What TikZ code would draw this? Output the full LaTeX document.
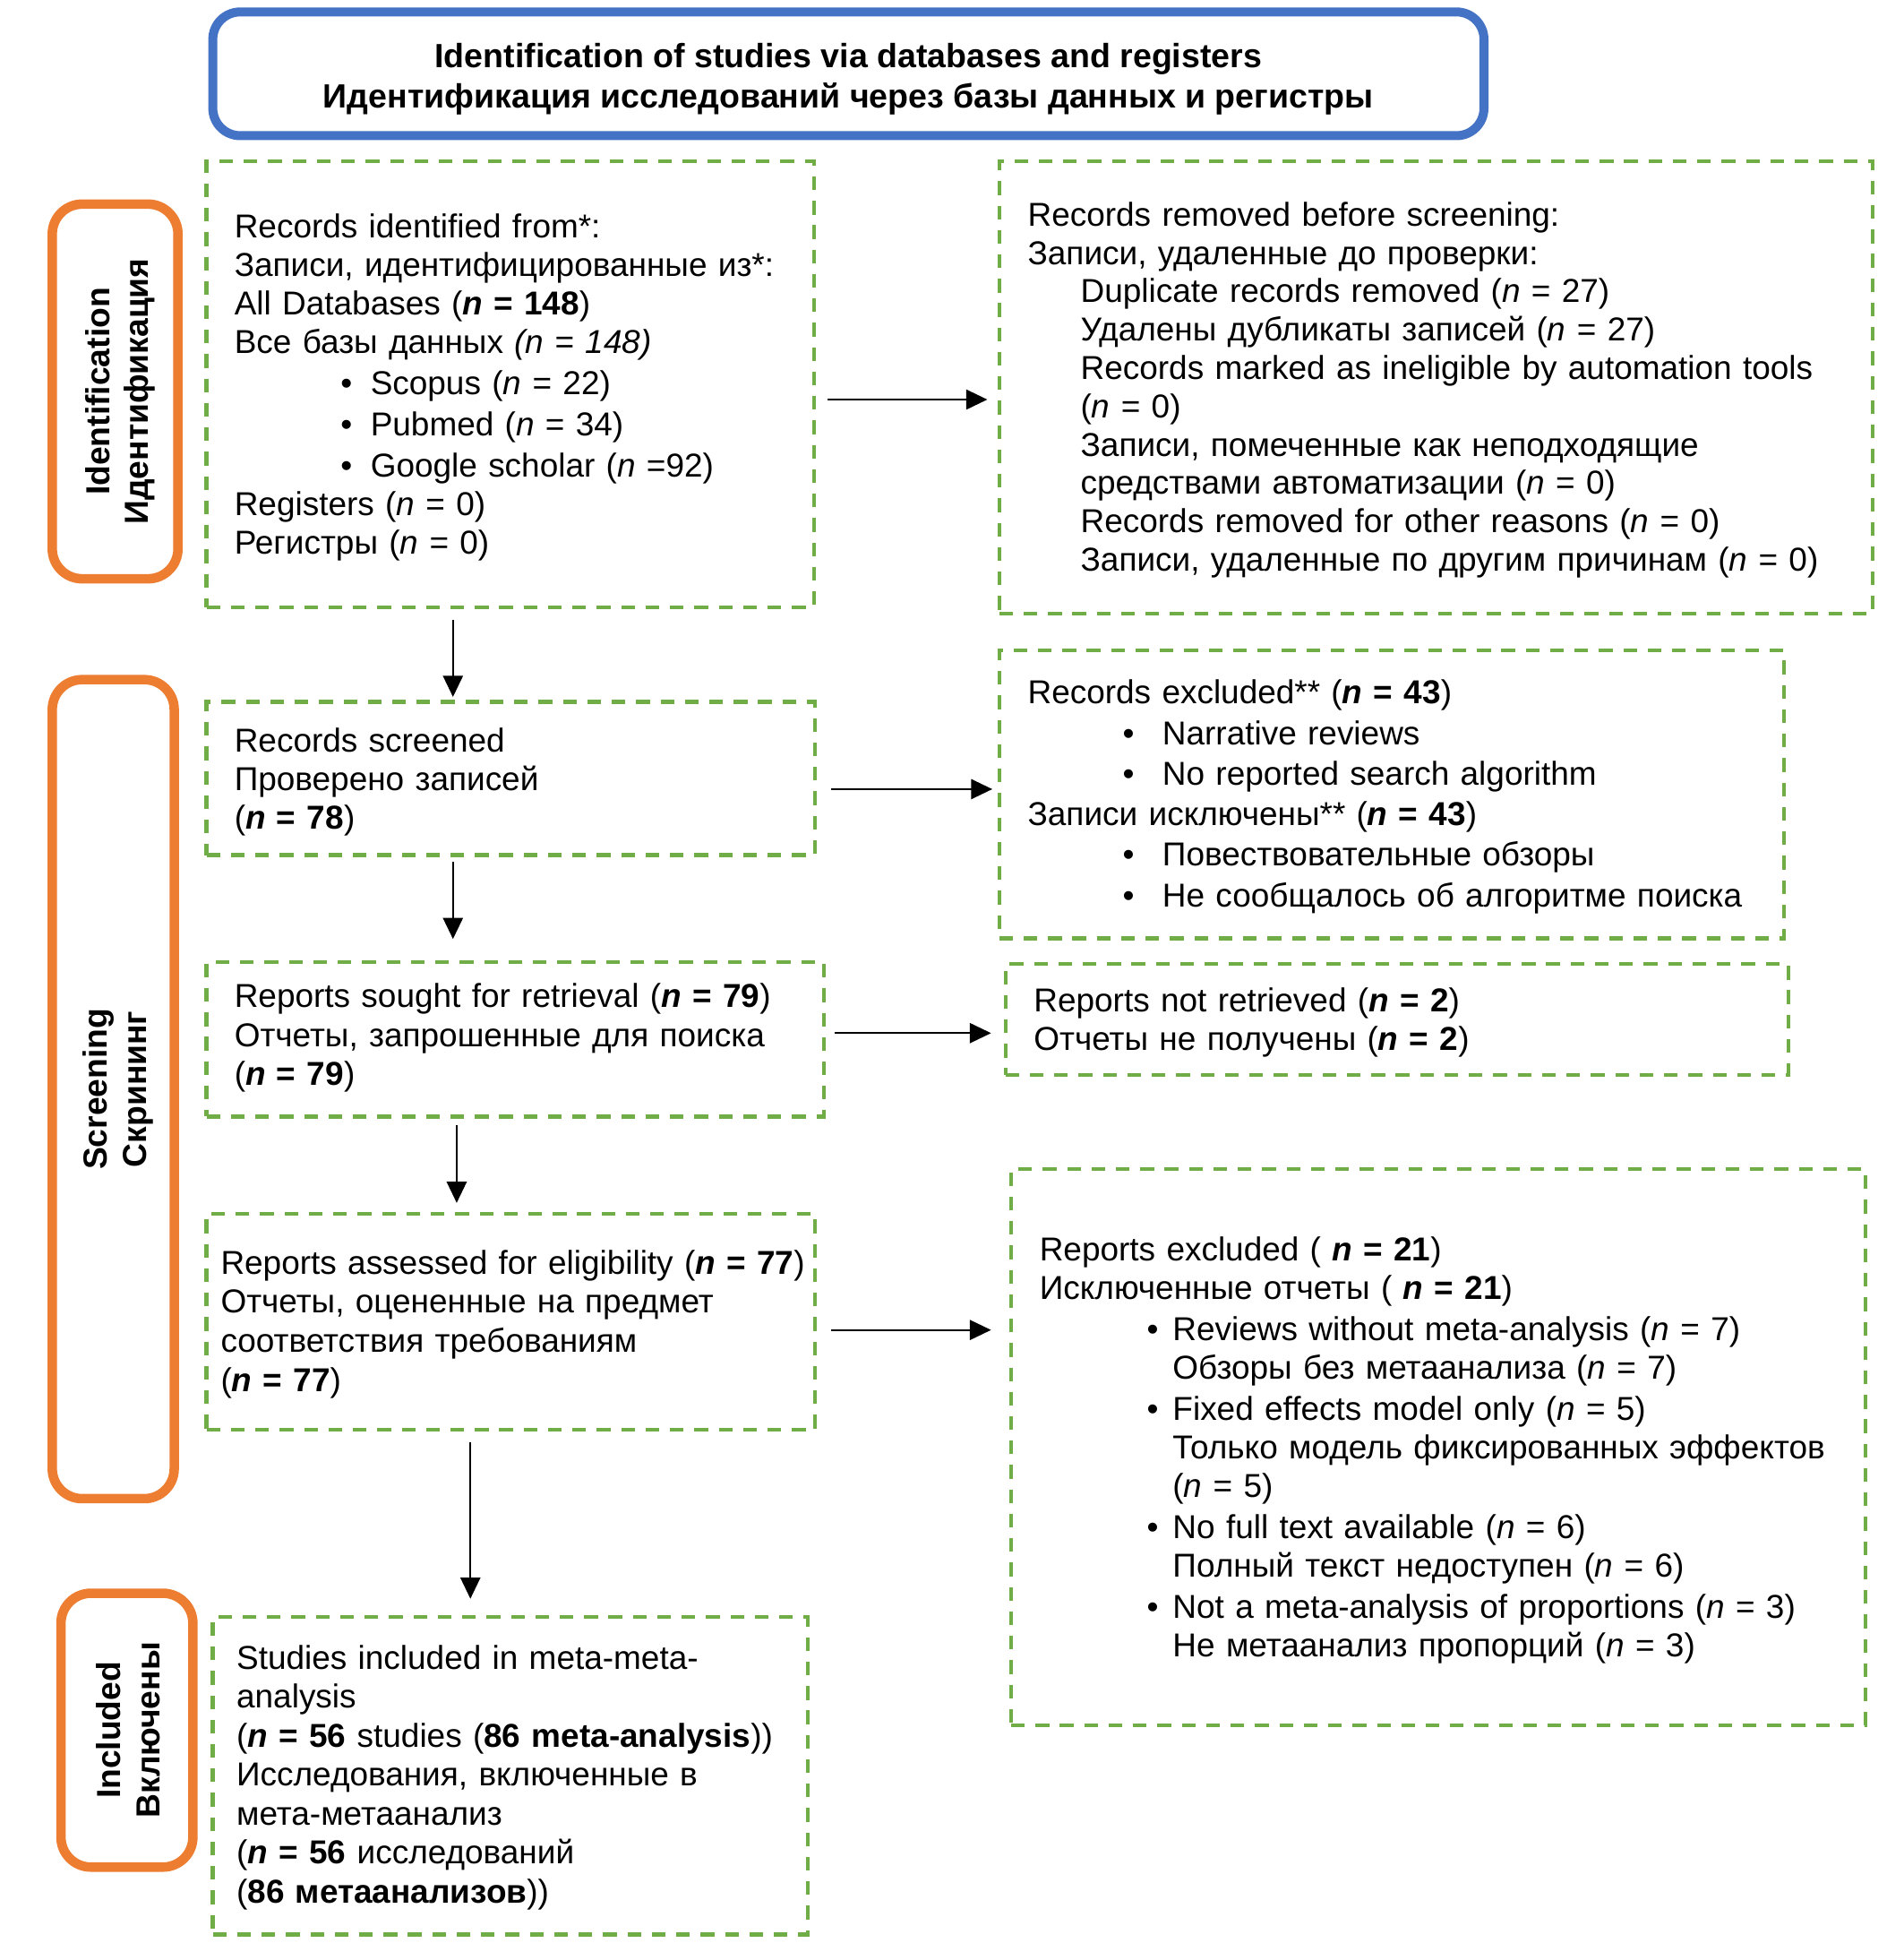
\documentclass[tikz,border=0pt]{standalone}
\usepackage{fontspec}
\setmainfont{Liberation Sans}
\usetikzlibrary{arrows.meta,fit}
\definecolor{gboxc}{HTML}{70AD47}
\definecolor{oboxc}{HTML}{ED7D31}
\definecolor{bboxc}{HTML}{4472C4}
\newcommand\nb{\textbf{\textit{n}}}
\begin{document}
\begin{tikzpicture}[x=0.5pt,y=-0.5pt,
 gbox/.style={draw=gboxc, line width=1.6pt, dash pattern=on 5.5pt off 4.3pt, inner sep=0pt},
 obox/.style={draw=oboxc, line width=3.8pt, rounded corners=12pt, inner sep=0pt},
 bbox/.style={draw=bboxc, line width=3.6pt, rounded corners=11pt, inner sep=0pt},
 txt/.style={anchor=base west, inner sep=0pt, text width=420pt, align=left},
 lab/.style={rotate=90, align=center, inner sep=0pt, font=\bfseries\fontsize{13.4pt}{15.6pt}\selectfont},
 arr/.style={draw, line width=0.7pt, -{Triangle[length=8.5pt,width=8pt]}},
]
\useasboundingbox (0,0) rectangle (1530,1561);

% title
\node[bbox, fit={(171,9.6) (1192.5,109)}] (T) {};
\node[align=center, inner sep=0pt, font=\bfseries\fontsize{13.5pt}{16pt}\selectfont] (Tt) at ([yshift=-2.2pt]T.center)
  {Identification of studies via databases and registers\\Идентификация исследований через базы данных и регистры};

% stage labels
\node[obox, fit={(42,164) (143,465)}] (OI) {};
\node[lab] (OIt) at ([xshift=2pt]OI.center) {Identification\\Идентификация};
\node[obox, fit={(42,546) (140,1204)}] (OS) {};
\node[lab] (OSt) at ([xshift=2pt]OS.center) {Screening\\Скрининг};
\node[obox, fit={(49,1280) (155,1500)}] (OC) {};
\node[lab] (OCt) at ([xshift=0.5pt]OC.center) {Included\\Включены};

% boxes
\node[gbox, fit={(166,129.5) (654,488)}] (A) {};
\node[gbox, fit={(803,129.5) (1505,493)}] (B) {};
\node[gbox, fit={(166,564) (655,687)}] (C) {};
\node[gbox, fit={(803,522.5) (1433.5,754)}] (D) {};
\node[gbox, fit={(166,773) (662,897)}] (E) {};
\node[gbox, fit={(808,774.5) (1437,863.6)}] (F) {};
\node[gbox, fit={(166,975) (655,1148.6)}] (G) {};
\node[gbox, fit={(812.5,939) (1499,1386)}] (H) {};
\node[gbox, fit={(171,1299) (649,1554)}] (I) {};

% texts
\node[txt, font=\fontsize{13.3pt}{15.5pt}\selectfont] (At) at (188,191) {%
Records identified from*:\\
Записи, идентифицированные из*:\\
All Databases (\nb\textbf{ = 148})\\
Все базы данных \textit{(n = 148)}\\[1pt]
\hspace*{42.65pt}\makebox[12.05pt][l]{•}Scopus (\textit{n} = 22)\\[1pt]
\hspace*{42.65pt}\makebox[12.05pt][l]{•}Pubmed (\textit{n} = 34)\\[1pt]
\hspace*{42.65pt}\makebox[12.05pt][l]{•}Google scholar (\textit{n} =92)\\
Registers (\textit{n} = 0)\\
Регистры (\textit{n} = 0)};

\node[txt, font=\fontsize{13.3pt}{15.4pt}\selectfont] (Bt) at (825.5,181.6) {%
Records removed before screening:\\
Записи, удаленные до проверки:\\
\hspace*{21.25pt}Duplicate records removed (\textit{n} = 27)\\
\hspace*{21.25pt}Удалены дубликаты записей (\textit{n} = 27)\\
\hspace*{21.25pt}Records marked as ineligible by automation tools\\
\hspace*{21.25pt}(\textit{n} = 0)\\
\hspace*{21.25pt}Записи, помеченные как неподходящие\\
\hspace*{21.25pt}средствами автоматизации (\textit{n} = 0)\\
\hspace*{21.25pt}Records removed for other reasons (\textit{n} = 0)\\
\hspace*{21.25pt}Записи, удаленные по другим причинам (\textit{n} = 0)};

\node[txt, font=\fontsize{13.3pt}{15.5pt}\selectfont] (Ct) at (188,604) {%
Records screened\\
Проверено записей\\
(\nb\textbf{ = 78})};

\node[txt, font=\fontsize{13.3pt}{16.3pt}\selectfont] (Dt) at (825.5,565.5) {%
Records excluded** (\nb\textbf{ = 43})\\
\hspace*{38.15pt}\makebox[15.95pt][l]{•}Narrative reviews\\
\hspace*{38.15pt}\makebox[15.95pt][l]{•}No reported search algorithm\\
Записи исключены** (\nb\textbf{ = 43})\\
\hspace*{38.15pt}\makebox[15.95pt][l]{•}Повествовательные обзоры\\
\hspace*{38.15pt}\makebox[15.95pt][l]{•}Не сообщалось об алгоритме поиска};

\node[txt, font=\fontsize{13.3pt}{15.5pt}\selectfont] (Et) at (188,809.6) {%
Reports sought for retrieval (\nb\textbf{ = 79})\\
Отчеты, запрошенные для поиска\\
(\nb\textbf{ = 79})};

\node[txt, font=\fontsize{13.3pt}{15.5pt}\selectfont] (Ft) at (830.4,813) {%
Reports not retrieved (\nb\textbf{ = 2})\\
Отчеты не получены (\nb\textbf{ = 2})};

\node[txt, font=\fontsize{13.3pt}{15.7pt}\selectfont] (Gt) at (177,1023.5) {%
Reports assessed for eligibility (\nb\textbf{ = 77})\\
Отчеты, оцененные на предмет\\
соответствия требованиям\\
(\nb\textbf{ = 77})};

\node[txt, font=\fontsize{13.3pt}{15.5pt}\selectfont] (Ht) at (835,1012.8) {%
Reports excluded ( \nb\textbf{ = 21})\\
Исключенные отчеты ( \nb\textbf{ = 21})\\[1pt]
\hspace*{43.15pt}\makebox[10.35pt][l]{•}Reviews without meta-analysis (\textit{n} = 7)\\
\hspace*{53.5pt}Обзоры без метаанализа (\textit{n} = 7)\\[1pt]
\hspace*{43.15pt}\makebox[10.35pt][l]{•}Fixed effects model only (\textit{n} = 5)\\
\hspace*{53.5pt}Только модель фиксированных эффектов\\
\hspace*{53.5pt}(\textit{n} = 5)\\[1pt]
\hspace*{43.15pt}\makebox[10.35pt][l]{•}No full text available (\textit{n} = 6)\\
\hspace*{53.5pt}Полный текст недоступен (\textit{n} = 6)\\[1pt]
\hspace*{43.15pt}\makebox[10.35pt][l]{•}Not a meta-analysis of proportions (\textit{n} = 3)\\
\hspace*{53.5pt}Не метаанализ пропорций (\textit{n} = 3)};

\node[txt, font=\fontsize{13.3pt}{15.65pt}\selectfont] (It) at (189.7,1341) {%
Studies included in meta-meta-\\
analysis\\
(\nb\textbf{ = 56} studies (\textbf{86 meta-analysis}))\\
Исследования, включенные в\\
мета-метаанализ\\
(\nb\textbf{ = 56} исследований\\
(\textbf{86 метаанализов}))};

% connector guides
\coordinate (c1) at (364,0);
\coordinate (c2) at (367,0);
\coordinate (c3) at (378,0);
\coordinate (r1) at (0,321);
\coordinate (r2) at (0,634);
\coordinate (r3) at (0,830);
\coordinate (r4) at (0,1068.5);

\draw[arr, shorten <=4.3pt, shorten >=1.25pt] (A.south -| c1) -- (C.north -| c1);
\draw[arr, shorten <=2pt, shorten >=8.5pt] (C.south -| c1) -- (E.north -| c1);
\draw[arr, shorten <=2.5pt, shorten >=3.5pt] (E.south -| c2) -- (G.north -| c2);
\draw[arr, shorten <=4.2pt, shorten >=6.5pt] (G.south -| c3) -- (I.north -| c3);
\draw[arr, shorten <=4.8pt, shorten >=4pt] (A.east |- r1) -- (B.west |- r1);
\draw[arr, shorten <=5.75pt, shorten >=2pt] (C.east |- r2) -- (D.west |- r2);
\draw[arr, shorten <=3.5pt, shorten >=5pt] (E.east |- r3) -- (F.west |- r3);
\draw[arr, shorten <=5.8pt, shorten >=7.25pt] (G.east |- r4) -- (H.west |- r4);
\end{tikzpicture}
\end{document}
